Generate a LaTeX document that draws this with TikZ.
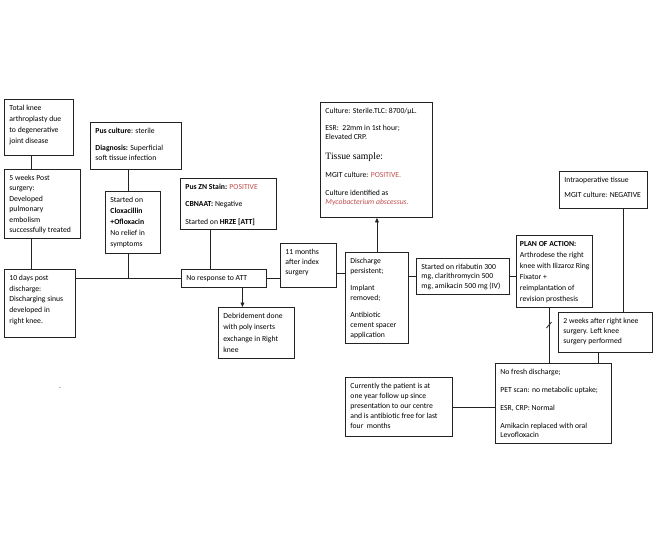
\documentclass[tikz,border=0pt]{standalone}
\usepackage{fontspec}
\setmainfont{Carlito}
\newfontfamily\tnr{Liberation Serif}
\usetikzlibrary{arrows.meta}
\definecolor{redtxt}{RGB}{192,80,77}
\definecolor{ln}{RGB}{35,35,35}
\newcommand{\tb}[3]{\makebox[#1][l]{\parbox[c][#2][t]{220pt}{\raggedright\rule{0pt}{5.7pt}#3}}}
\newcommand{\ls}[1]{\fontsize{7.7}{#1}\selectfont}
\tikzset{
  bx/.style={draw=ln, line width=0.9pt, inner xsep=5pt, inner ysep=5.3pt, anchor=north west, font=\fontsize{7.7}{10}\selectfont},
  conn/.style={draw=ln, line width=0.8pt},
  arr/.style={conn, -{Triangle[length=4.5pt,width=3.8pt]}}
}
\begin{document}
\begin{tikzpicture}[x=1pt,y=1pt]
\fill[white] (0,0) rectangle (666,-542);
\useasboundingbox (0,0) rectangle (666,-542);

\node[bx] (A) at (4,-99) {\tb{59pt}{45.4pt}{\ls{11}Total knee\\ arthroplasty due\\ to degenerative\\ joint disease}};
\node[bx] (B) at (4,-169) {\tb{66pt}{58.4pt}{\ls{10.5}5 weeks Post\\ surgery:\\ Developed\\ pulmonary\\ embolism\\ successfully treated}};
\node[bx] (C) at (4,-269) {\tb{61pt}{57.4pt}{\ls{10.7}10 days post\\ discharge:\\ Discharging sinus\\ developed in\\ right knee.}};
\node[bx] (D) at (90,-122) {\tb{81pt}{36.4pt}{\ls{10}\textbf{Pus culture}: sterile\\[7pt] \textbf{Diagnosis:} Superficial\\ soft tissue infection}};
\node[bx] (E) at (105,-191) {\tb{45pt}{51.4pt}{\ls{11}Started on\\ \textbf{Cloxacillin}\\ \textbf{+Ofloxacin}\\ No relief in\\ symptoms}};
\node[bx] (F) at (180,-178) {\tb{86pt}{40.4pt}{\ls{10}\textbf{Pus ZN Stain:} \textcolor{redtxt}{POSITIVE}\\[7.5pt] \textbf{CBNAAT:} Negative\\[7.5pt] Started on \textbf{HRZE [ATT]}}};
\node[bx] (NR) at (181,-269) {\tb{75pt}{7.4pt}{No response to ATT}};
\node[bx] (Deb) at (218,-307) {\tb{66pt}{40.4pt}{\ls{11.3}Debridement done\\ with poly inserts\\ exchange in Right\\ knee}};
\node[bx] (G) at (280,-243) {\tb{46pt}{33.4pt}{\ls{10}11 months\\ after index\\ surgery}};
\node[bx] (H) at (345,-252) {\tb{53pt}{80.4pt}{\ls{10}Discharge\\ persistent;\\[7pt] Implant\\ removed;\\[7pt] Antibiotic\\ cement spacer\\ application}};
\node[bx] (J) at (320,-102) {\tb{102pt}{104.4pt}{\ls{9}Culture: Sterile.TLC: 8700/µL.\\[8pt] ESR:\ \ 22mm in 1st hour;\\ Elevated CRP.\\[11pt] {\tnr\fontsize{9.7}{11}\selectfont Tissue sample:}\\[9pt] MGIT culture: \textcolor{redtxt}{POSITIVE.}\\[9pt] Culture identified as\\ \textcolor{redtxt}{\itshape Mycobacterium abscessus.}}};
\node[bx] (I) at (416,-258) {\tb{83pt}{25.4pt}{\ls{9.5}Started on rifabutin 300\\ mg, clarithromycin 500\\ mg, amikacin 500 mg (IV)}};
\node[bx, inner xsep=3.5pt] (K) at (516,-235) {\tb{69pt}{61.4pt}{\ls{11}\textbf{PLAN OF ACTION:}\\ Arthrodese the right\\ knee with Ilizaroz Ring\\ Fixator +\\ reimplantation of\\ revision prosthesis}};
\node[bx] (L) at (559,-171) {\tb{78pt}{26.4pt}{\ls{9}Intraoperative tissue\\[6pt] MGIT culture: NEGATIVE}};
\node[bx] (M) at (558,-312) {\tb{84pt}{29.4pt}{\ls{10}2 weeks after right knee\\ surgery. Left knee\\ surgery performed}};
\node[bx] (N) at (495,-363) {\tb{106pt}{69.4pt}{\ls{9}No fresh discharge;\\[9pt] PET scan: no metabolic uptake;\\[9pt] ESR, CRP: Normal\\[9pt] Amikacin replaced with oral\\ Levofloxacin}};
\node[bx] (O) at (345,-377) {\tb{97pt}{48.4pt}{\ls{10}Currently the patient is at\\ one year follow up since\\ presentation to our centre\\ and is antibiotic free for last\\ four\ \ months}};
\node[font=\fontsize{7}{8}\selectfont, inner sep=0pt] (dot) at (60,-388) {.};

\draw[conn] ([xshift=27pt]A.south west) -- ([xshift=27pt]B.north west);
\draw[conn] ([xshift=27pt]B.south west) -- ([xshift=27pt]C.north west);
\draw[conn] (NR.west) -- (NR.west -| C.east);
\draw[conn] ([xshift=-4.5pt]E.north) -- ([xshift=-4.5pt]E.north |- D.south);
\draw[conn] ([xshift=-4.5pt]E.south) -- ([xshift=-4.5pt]E.south |- NR.west);
\draw[conn] ([xshift=-18pt]F.south) -- ([xshift=-18pt]F.south |- NR.north);
\draw[arr] ([xshift=-14pt]Deb.north |- NR.south) -- ([xshift=-14pt]Deb.north);
\draw[conn] (NR.east) -- (NR.east -| G.west);
\draw[conn] ([yshift=-8pt]G.east) -- ([yshift=-8pt]G.east -| H.west);
\draw[conn] (I.west) -- (I.west -| H.east);
\draw[conn] (I.east) -- (I.east -| K.west);
\draw[arr] (H.north) -- (H.north |- J.south);
\draw[conn] ([xshift=-5pt]K.south) -- ([xshift=-5pt]K.south |- N.north);
\coordinate (sl) at (549,-325);
\draw[conn] ([shift={(-2.5pt,-3pt)}]sl) -- ([shift={(2.5pt,3pt)}]sl);
\draw[conn] ([xshift=20pt]L.south) -- ([xshift=20pt]L.south |- M.north);
\draw[conn] ([xshift=-7pt]M.south) -- ([xshift=-7pt]M.south |- N.north);
\draw[conn] (O.east) -- (O.east -| N.west);
\end{tikzpicture}
\end{document}
